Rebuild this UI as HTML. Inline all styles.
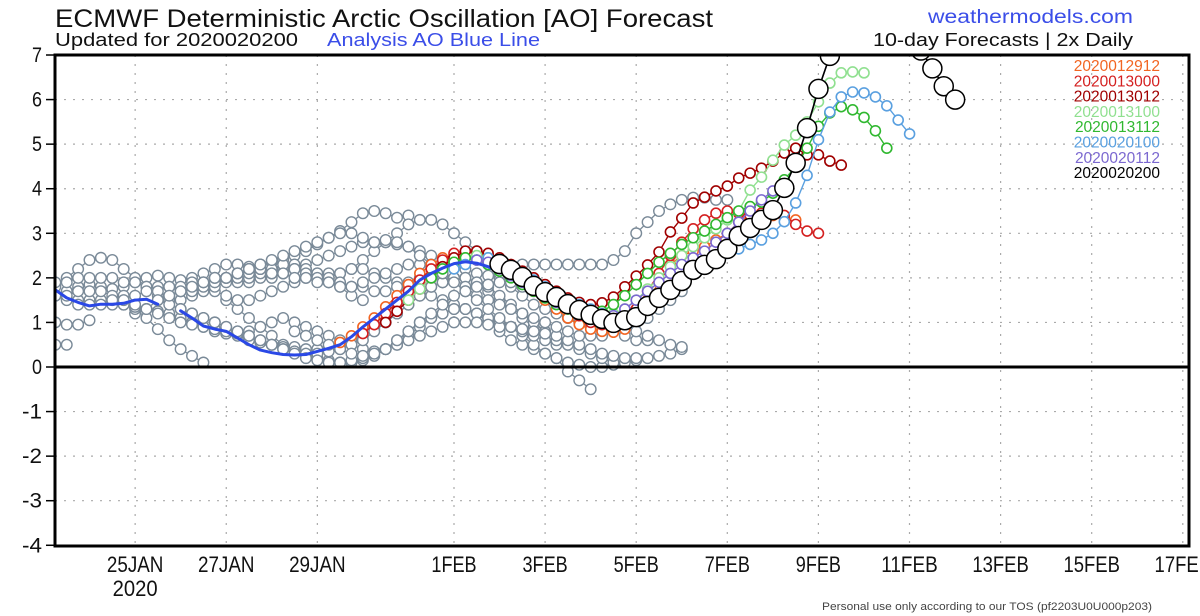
<!DOCTYPE html>
<html><head><meta charset="utf-8"><style>
html,body{margin:0;padding:0;background:#fff;}
svg{display:block;}
.t{font-family:"Liberation Sans",sans-serif;}
.n{font-family:"Liberation Sans Narrow","Liberation Sans",sans-serif;}
</style></head><body>
<svg id="chart" width="1200" height="616" viewBox="0 0 1200 616" xmlns="http://www.w3.org/2000/svg">
<defs><clipPath id="plotclip"><rect x="55" y="55" width="1134" height="491"/></clipPath></defs>
<text class="t" x="55" y="27" font-size="25" textLength="658" lengthAdjust="spacingAndGlyphs" fill="#111">ECMWF Deterministic Arctic Oscillation [AO] Forecast</text>
<text class="t" x="55" y="46" font-size="18" textLength="243" lengthAdjust="spacingAndGlyphs" fill="#111">Updated for 2020020200</text>
<text class="t" x="327" y="46" font-size="18" textLength="213" lengthAdjust="spacingAndGlyphs" fill="#3b4ee8">Analysis AO Blue Line</text>
<text class="t" x="928" y="23" font-size="19" textLength="205" lengthAdjust="spacingAndGlyphs" fill="#3b4ee8">weathermodels.com</text>
<text class="t" x="873" y="46" font-size="18" textLength="260" lengthAdjust="spacingAndGlyphs" fill="#111">10-day Forecasts | 2x Daily</text>
<g id="grid"></g>
<g id="series" clip-path="url(#plotclip)"></g>
<line x1="55" y1="367" x2="1189" y2="367" stroke="#000" stroke-width="3"/>
<rect x="55" y="55" width="1134" height="491" fill="none" stroke="#000" stroke-width="3"/>
<g id="axes"></g>
<g id="legend"></g>
<text class="n" x="822" y="610" font-size="11" textLength="330" lengthAdjust="spacingAndGlyphs" fill="#444">Personal use only according to our TOS (pf2203U0U000p203)</text>
</svg>
<script>
const tickDays=[-7,-5,-3,0,2,4,6,8,10,12,14,16];
const tickLabels=["25JAN","27JAN","29JAN","1FEB","3FEB","5FEB","7FEB","9FEB","11FEB","13FEB","15FEB","17FEB"];
const yTicks=[7,6,5,4,3,2,1,0,-1,-2,-3,-4];
const legendNames=["2020012912","2020013000","2020013012","2020013100","2020013112","2020020100","2020020112","2020020200"];
const legendColors=["#f26522","#d42020","#a00000","#90e090","#30b830","#5aa0e0","#7b68d0","#000000"];
// analysis (6-hourly steps from s=0; null = gap)
const analysis=[1.73,1.55,1.45,1.37,1.41,1.41,1.43,1.5,1.52,1.41,null,1.26,1.1,0.92,0.85,0.8,0.65,0.5,0.38,0.32,0.28,0.27,0.28,0.35,0.42,0.5,0.68,0.9,1.1,1.3,1.5,1.7,1.95,2.1,2.22,2.32,2.36,2.33,2.25,2.12];
// gray earlier forecasts: start step + values
const g1=[1.6,1.7,1.8,1.85,1.8,1.75,1.8,1.9,2.0,2.05,2.0,1.95,2.0,2.1,2.2,2.3,2.3,2.25,2.3,2.35,2.4,2.5,2.6,2.75,2.9,3.05,3.25,3.45,3.5,3.45,3.35,3.4];
const g2=[1.8,1.9,2.0,2.0,1.9,1.9,2.0,2.1,2.2,2.3,2.2,2.1,2.0,2.1,2.2,2.4,2.6,2.8,3.0,3.2,3.3,3.3,3.2,3.0,2.8,2.6,2.3,2.0,1.8,1.6,1.4,1.3,1.2,1.1,1.0,0.9,0.8,0.8,0.7,0.6,0.6];
const g3=[2.0,2.1,2.2,2.3,2.4,2.5,2.6,2.7,2.8,2.8,2.8,2.75,2.7,2.6,2.5,2.4,2.3,2.2,2.1,2.05,2.1,2.2,2.3,2.3,2.3,2.3,2.3,2.3,2.3,2.3,2.4,2.6,3.0,3.25,3.5,3.65,3.75,3.8,3.8,3.75,3.75];
const g4=[1.5,1.3,1.1,0.9,0.7,0.5,0.4,0.3,0.2,0.15,0.1,0.1,0.15,0.25,0.4,0.6,0.8,1.0,1.1,1.2,1.3,1.3,1.2,1.0,0.8,0.6,0.5,0.4,0.3,0.2,0.1,0.05,0.0,0.0,0.05,0.1,0.15,0.2,0.25,0.3,0.4];
const g5=[1.2,1.3,1.5,1.6,1.7,1.8,1.8,1.7,1.6,1.5,1.5,1.6,1.7,1.8,1.9,2.0,2.0,2.1,2.1,2.2,2.2,2.1,2.0,1.9,1.8,1.7,1.6,1.5,1.4,1.3,1.2,1.1,1.0,0.9,0.7,0.5,0.3,0.2,-0.1,-0.3,-0.5];
const g6=[1.6,1.5,1.5,1.5,1.5,1.5,1.4,1.3,1.1,0.85,0.6,0.4,0.25,0.1];
const g7=[1.0,0.95,0.95,1.05];
const g8=[0.5,0.5];
const g9=[1.8,2.0,2.2,2.4,2.45,2.4,2.2,2.0,1.8,1.6,1.5,1.5,1.6,1.7,1.8,1.9,2.0,2.0,2.1,2.1,2.2,2.2,2.2,2.1,2.0,1.9,1.8,1.8,1.7,1.7,1.8,1.9,2.0,2.0,2.0];
const g10=[1.9,1.9,2.0,2.0,2.0,2.0,1.9,1.9,1.8,1.8,1.8,1.7,1.7,1.8,1.9,2.0,2.1,2.2,2.2,2.1,2.1,2.0];
const g11=[1.6,1.6,1.7,1.7,1.7,1.6,1.6,1.6,1.7,1.7,1.8,1.8,1.9,1.9,2.0,2.0,2.1,2.1,2.2,2.2,2.3,2.2,2.1,2.0,1.9,1.8,1.6,1.5];
const g12=[1.4,1.4,1.4,1.4,1.4,1.35,1.3,1.25,1.2,1.1,1.0,0.9,0.8,0.75,0.7,0.6,0.55,0.5,0.45,0.45,0.4,0.4,0.45,0.5,0.6,0.7,0.85,1.0,1.2,1.4,1.6,1.8,1.9,2.0,2.0,1.9,1.7,1.5,1.3,1.1,0.9];
const g13=[1.5,1.5,1.4,1.3,1.2,1.1,1.0,0.95,0.9,0.85,0.8,0.75,0.8,0.9,1.0,1.1,1.0,0.9,0.8,0.7,0.6,0.5,0.4,0.35,0.4,0.5,0.7,0.9,1.1,1.2,1.3,1.3,1.2,1.1,1.0,0.9,0.8,0.7,0.6,0.5,0.5];
const g14=[1.5,1.4,1.3,1.2,1.1,1.0,0.9,0.8,0.7,0.6,0.5,0.4,0.35,0.3,0.3,0.35,0.4,0.5,0.6,0.8,1.0,1.2,1.4,1.6,1.8,1.9,2.0,2.0,1.9,1.8,1.6,1.4,1.2,1.0,0.8,0.6,0.5,0.4,0.3,0.2,0.1];
const g15=[1.3,1.2,1.1,1.0,0.9,0.8,0.7,0.6,0.5,0.4,0.3,0.2,0.15,0.1,0.1,0.15,0.2,0.3,0.4,0.5,0.6,0.7,0.8,0.9,1.0,1.0,1.0,0.95,0.9,0.9,0.85,0.8,0.75,0.7,0.6,0.5,0.4,0.3,0.25,0.2,0.2];
const g16=[2.2,2.2,2.1,2.1,2.0,2.0,1.9,1.9,1.8,1.8,1.9,2.0,2.1,2.2,2.3,2.3,2.2,2.1,2.0,1.8,1.6,1.5,1.4,1.3,1.2,1.1,1.0,0.9,0.8,0.7,0.7,0.7,0.8,0.9,1.0,1.1,1.3,1.5,1.7];
const g17=[0.8,0.7,0.6,0.5,0.4,0.3,0.25,0.3,0.4,0.6,0.8,1.0,1.2,1.4,1.6,1.7,1.8,1.85,1.9,1.9,1.8,1.7,1.6,1.5,1.4,1.3,1.2,1.1,1.0,0.9,0.8,0.7,0.6,0.5,0.45];
const g18=[1.6,1.7,1.8,1.9,2.0,2.0,2.1,2.2,2.3,2.4,2.5,2.6,2.7,2.8,2.9,3.0,3.0,2.9,2.8,2.85,2.8,2.7,2.5,2.3,2.1,1.9,1.7,1.5,1.3,1.1,0.9];
const grayStarts=[0,12,19,15,7,0,0,0,0,0,0,2,5,9,11,17,21,10];
// recent forecasts (6-hourly)
const fOrange=[0.55,0.7,0.9,1.1,1.35,1.6,1.85,2.1,2.3,2.45,2.5,2.45,2.4,2.35,2.25,2.1,1.9,1.7,1.5,1.3,1.1,0.95,0.85,0.8,0.78,0.85,1.1,1.5,1.9,2.3,2.5,2.6,2.7,2.85,3.0,3.25,3.4,3.45,3.4,3.35,3.3];
const fRed=[0.75,0.95,1.2,1.45,1.7,1.95,2.2,2.4,2.55,2.6,2.55,2.5,2.4,2.3,2.15,1.95,1.75,1.55,1.35,1.15,1.0,0.95,0.9,1.0,1.3,1.7,2.1,2.5,2.8,3.1,3.3,3.45,3.5,3.45,3.4,3.45,3.55,3.4,3.2,3.05,3.0];
const fDarkRed=[1.0,1.25,1.5,1.75,2.0,2.25,2.45,2.6,2.6,2.55,2.45,2.3,2.15,2.0,1.85,1.7,1.55,1.45,1.4,1.44,1.57,1.8,2.04,2.29,2.58,3.03,3.34,3.68,3.81,3.95,4.06,4.24,4.35,4.46,4.62,4.8,4.91,4.76,4.76,4.62,4.53];
const fLightGreen=[1.5,1.75,2.0,2.2,2.35,2.45,2.5,2.45,2.35,2.2,2.05,1.9,1.75,1.6,1.45,1.35,1.25,1.2,1.2,1.3,1.5,1.75,2.0,2.25,2.5,2.7,2.9,3.1,3.3,3.5,3.97,4.26,4.64,4.98,5.2,5.5,5.95,6.37,6.6,6.62,6.6];
const fGreen=[2.0,2.2,2.35,2.45,2.4,2.3,2.15,2.0,1.85,1.7,1.55,1.4,1.3,1.25,1.2,1.25,1.4,1.6,1.85,2.1,2.35,2.55,2.75,2.9,3.05,3.2,3.35,3.5,3.6,3.7,3.9,4.2,4.5,4.91,5.4,5.7,5.84,5.77,5.6,5.3,4.91];
const fBlue=[2.2,2.3,2.4,2.45,2.35,2.25,2.1,1.95,1.8,1.65,1.5,1.4,1.3,1.2,1.15,1.15,1.2,1.35,1.55,1.75,1.95,2.15,2.3,2.45,2.55,2.65,2.75,2.85,3.0,3.26,3.68,4.3,5.1,5.72,6.06,6.17,6.15,6.06,5.86,5.54,5.23];
const fPurple=[2.4,2.35,2.2,2.05,1.9,1.75,1.6,1.45,1.35,1.25,1.15,1.1,1.15,1.3,1.5,1.7,1.9,2.1,2.3,2.45,2.6,2.8,3.0,3.25,3.5,3.75,3.95,4.02,4.58,5.36,6.24,6.98,7.6,8.1,8.4,8.5,8.3,7.9,7.5,7.1,6.7];
const fBlack=[2.31,2.18,2.02,1.82,1.68,1.57,1.41,1.28,1.17,1.08,0.99,1.05,1.12,1.37,1.55,1.73,1.93,2.18,2.29,2.42,2.65,2.94,3.12,3.30,3.52,4.02,4.58,5.36,6.24,6.98,7.6,8.1,8.4,8.5,8.3,7.9,7.5,7.1,6.7,6.3,6.0];
const forecastStarts=[25,27,29,31,33,35,37,39];

const NS="http://www.w3.org/2000/svg";
function xDay(d){return 454+d*45.55;}
function xStep(s){return 499.55+(s-39)*11.39;}
function yVal(v){return 367-v*44.57;}
function mk(tag,attrs,parent){const e=document.createElementNS(NS,tag);for(const k in attrs)e.setAttribute(k,attrs[k]);parent.appendChild(e);return e;}

const grid=document.getElementById('grid'),axes=document.getElementById('axes'),ser=document.getElementById('series'),leg=document.getElementById('legend');
yTicks.forEach(v=>{
  const y=yVal(v);
  if(v!==0&&v!==7&&v!==-4){const gl=mk('line',{x1:55,x2:1189,y1:y,y2:y,stroke:'#aaa','stroke-width':1.2,'stroke-dasharray':'2,7'},grid);
  
  }
  const tk=mk('line',{x1:46,x2:55,y1:y,y2:y,stroke:'#000','stroke-width':1.5},axes);
  
  
  const s=String(v);
  const t=mk('text',{x:42,y:y+7,'font-size':21,'text-anchor':'end',class:'n',fill:'#111',textLength:(s.length*10),lengthAdjust:'spacingAndGlyphs'},axes);
  t.textContent=s;
  
  
});
tickDays.forEach((d,i)=>{
  const x=xDay(d);
  const gl=mk('line',{x1:x,x2:x,y1:55,y2:546,stroke:'#aaa','stroke-width':1.2,'stroke-dasharray':'2,7'},grid);
  
  
  const lab=tickLabels[i];
  const t=mk('text',{x:x,y:572,'font-size':22,'text-anchor':'middle',class:'n',fill:'#111',textLength:(lab.length*11.3),lengthAdjust:'spacingAndGlyphs'},axes);
  t.textContent=lab;
  
  
});
const yr=mk('text',{x:xDay(-7),y:596,'font-size':22,'text-anchor':'middle',class:'n',fill:'#111',textLength:45,lengthAdjust:'spacingAndGlyphs'},axes);
yr.textContent='2020';



function drawSeries(vals,start,color,r,lw,cw,name){
  const g=mk('g',{},ser);
  
  
  const pts=vals.map((v,i)=>xStep(start+i).toFixed(1)+','+yVal(v).toFixed(1)).join(' ');
  mk('polyline',{points:pts,fill:'none',stroke:color,'stroke-width':lw},g);
  vals.forEach((v,i)=>{
    const c=mk('circle',{cx:xStep(start+i),cy:yVal(v),r:r,fill:'#fff',stroke:color,'stroke-width':cw},g);
    
    
  });
}
const grays=[g1,g2,g3,g4,g5,g6,g7,g8,g9,g10,g11,g12,g13,g14,g15,g16,g17,g18];
grays.forEach((vals,i)=>drawSeries(vals,grayStarts[i],'#7a8a98',5.3,1.3,1.4,'earlier-forecast-'+(i+1)));
const colored=[fOrange,fRed,fDarkRed,fLightGreen,fGreen,fBlue,fPurple];
colored.forEach((vals,i)=>drawSeries(vals,forecastStarts[i],legendColors[i],5,1.4,1.6,'forecast-'+legendNames[i]));
let seg=[];const segs=[];
analysis.forEach((v,i)=>{if(v===null){if(seg.length)segs.push(seg);seg=[];}else seg.push(xStep(i).toFixed(1)+','+yVal(v).toFixed(1));});
if(seg.length)segs.push(seg);
segs.forEach(s=>{
  const p=mk('polyline',{points:s.join(' '),fill:'none',stroke:'#2a48e6','stroke-width':3,'stroke-linejoin':'round','stroke-linecap':'round'},ser);
  
  
});
drawSeries(fBlack,forecastStarts[7],'#000',9.5,1.6,1.5,'forecast-2020020200');

legendNames.forEach((n,i)=>{
  const t=mk('text',{x:1160,y:71+i*15.3,'font-size':15.5,'text-anchor':'end',class:'t',fill:legendColors[i]},leg);
  t.textContent=n;
  
  
});
</script>
</body></html>
